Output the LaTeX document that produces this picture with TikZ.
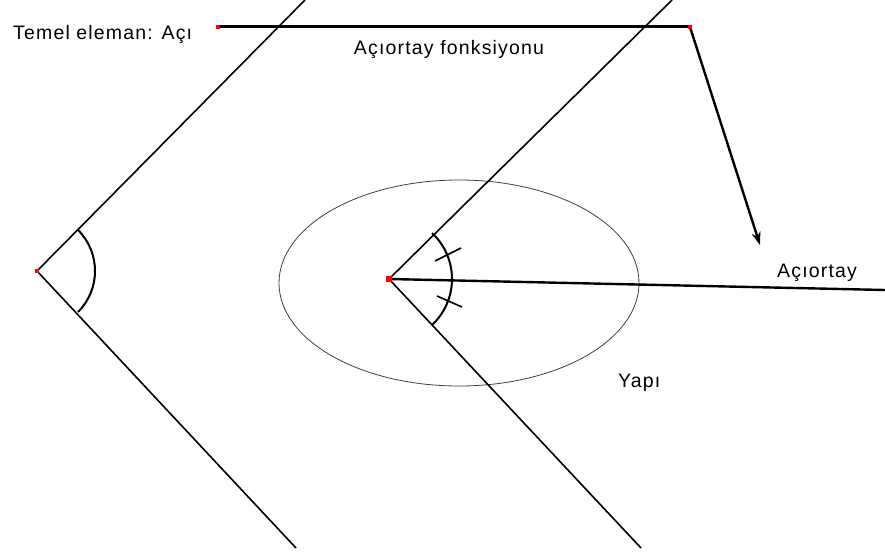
\documentclass[tikz,border=0pt]{standalone}
\usepackage{fontspec}
\setmainfont{Liberation Sans}[LetterSpace=6]
\usetikzlibrary{arrows.meta,calc}
\begin{document}
\begin{tikzpicture}[x=1pt,y=-1pt,
  ray/.style={line width=1.6pt,black},
  arcline/.style={line width=2pt,black},
  lbl/.style={font=\fontsize{19.5}{22}\selectfont,inner sep=0pt,anchor=base west},
  reddot/.style={fill=red,inner sep=0pt,minimum size=3pt,draw=none}]
\useasboundingbox (0,0) rectangle (885,556);
\fill[white] (0,0) rectangle (885,556);
% left angle
\coordinate (A) at (37,271);
\coordinate (Au) at (305,0);
\coordinate (Al) at (296,548);
\draw[ray] (A) -- (Au);
\draw[ray] (A) -- (Al);
\draw[arcline] ($(A)+(-45:58)$) arc[start angle=-45,end angle=45,radius=58];
\node[reddot,minimum size=3.5pt] at (A) {};
% ellipse
\coordinate (E) at (459,283);
\draw[line width=0.8pt,black!75] (E) ellipse [x radius=180,y radius=103];
% right angle
\coordinate (B) at (389,279);
\coordinate (Bu) at (672,0);
\coordinate (Bl) at (641,548);
\coordinate (Bb) at (885,290);
\draw[ray] (B) -- (Bu);
\draw[ray] (B) -- (Bl);
\draw[line width=2.4pt] (B) -- (Bb);
\draw[arcline] ($(B)+(-46.8:63)$) arc[start angle=-46.8,end angle=46.8,radius=63];
\coordinate (t1a) at (435,261); \coordinate (t1b) at (461,248);
\coordinate (t2a) at (437,296); \coordinate (t2b) at (462,307);
\draw[ray] (t1a) -- (t1b);
\draw[ray] (t2a) -- (t2b);
\node[reddot,minimum size=6pt] at (B) {};
% top line and arrow
\coordinate (P) at (218,27);
\coordinate (Q) at (690,27);
\coordinate (R) at (760,245);
\draw[line width=3pt] (P) -- (Q);
\draw[line width=2.4pt,-{Stealth[length=13pt,width=9pt]}] (Q) -- (R);
\node[reddot,minimum size=4pt] at (P) {};
\node[reddot,minimum size=4pt] at (Q) {};
% labels
\node[lbl] (t1) at (13,40) {Temel eleman: Açı};
\node[lbl,anchor=base] (t2) at (449,55) {Açıortay fonksiyonu};
\node[lbl] (t3) at (777,277) {Açıortay};
\node[lbl] (t4) at (618,387) {Yapı};
\end{tikzpicture}
\end{document}
